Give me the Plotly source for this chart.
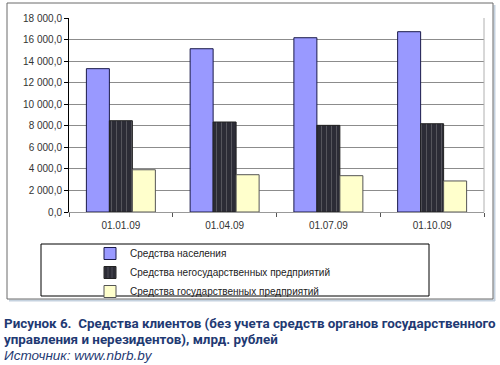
import plotly.graph_objects as go

# ---- data ----
dates = ["01.01.09", "01.04.09", "01.07.09", "01.10.09"]
population = [13300, 15150, 16170, 16730]
private_ent = [8470, 8350, 8040, 8190]
state_ent = [3920, 3460, 3370, 2880]
series_names = [
    "Средства населения",
    "Средства негосударственных предприятий",
    "Средства государственных предприятий",
]

W, H = 500, 365
L, R, T, B = 69, 16, 18, 153
PW, PH = W - L - R, H - T - B


def px_x(x):
    return (x - L) / PW


def px_y(y):
    return (H - B - y) / PH


fig = go.Figure()
fig.add_trace(go.Bar(
    x=dates, y=population, name=series_names[0],
    marker=dict(color="#9999FF", line=dict(color="#1a1a4a", width=1)),
))
fig.add_trace(go.Bar(
    x=dates, y=private_ent, name=series_names[1],
    marker=dict(color="#2c2c36", line=dict(color="#222222", width=1),
                pattern=dict(shape="|", fillmode="replace", bgcolor="#2c2c36",
                             fgcolor="#5f5f66", size=5, solidity=0.16)),
))
fig.add_trace(go.Bar(
    x=dates, y=state_ent, name=series_names[2],
    marker=dict(color="#FFFFCC", line=dict(color="#555555", width=1)),
))

axis_font = dict(family="Liberation Sans, Arial, sans-serif", size=10, color="#333333")

fig.update_layout(
    width=W, height=H, autosize=False,
    margin=dict(l=L, r=R, t=T, b=B, pad=0, autoexpand=False),
    paper_bgcolor="white", plot_bgcolor="white",
    barmode="group", bargap=0.335, bargroupgap=0,
    separators=", ",
    showlegend=True,
    legend=dict(
        x=px_x(90), y=px_y(239), xanchor="left", yanchor="top",
        orientation="v", bgcolor="rgba(0,0,0,0)", borderwidth=0,
        font=dict(family="Liberation Sans, Arial, sans-serif", size=10, color="#222222"),
        itemwidth=30, tracegroupgap=0,
    ),
    xaxis=dict(
        type="category", showline=True, linecolor="#999999", linewidth=1,
        ticks="outside", tickson="boundaries", ticklen=4, tickcolor="#555555",
        tickfont=axis_font, ticklabelstandoff=4, showgrid=False, mirror=False,
        fixedrange=True, automargin=False,
    ),
    yaxis=dict(
        range=[0, 18000], dtick=2000, tickformat=",.1f",
        showline=True, linecolor="#000000", linewidth=1,
        ticks="outside", ticklen=4, tickcolor="#000000",
        tickfont=axis_font, showgrid=True, gridcolor="#8c8c8c", gridwidth=1,
        zeroline=False, fixedrange=True, automargin=False,
    ),
)

shapes = []
# outer frame shadow
shapes.append(dict(type="line", xref="paper", yref="paper",
                   x0=px_x(9), x1=px_x(495), y0=px_y(300.5), y1=px_y(300.5),
                   line=dict(color="#c5d2df", width=2), layer="above"))
shapes.append(dict(type="line", xref="paper", yref="paper",
                   x0=px_x(494.5), x1=px_x(494.5), y0=px_y(301), y1=px_y(5),
                   line=dict(color="#c5d2df", width=2), layer="above"))
# outer frame
shapes.append(dict(type="rect", xref="paper", yref="paper",
                   x0=px_x(7), x1=px_x(493), y0=px_y(299), y1=px_y(3),
                   line=dict(color="#6b6b6b", width=1), fillcolor="rgba(0,0,0,0)", layer="above"))
# plot area right border
shapes.append(dict(type="line", xref="paper", yref="paper",
                   x0=1, x1=1, y0=0, y1=1, line=dict(color="#b0b0b0", width=1)))
# legend box
shapes.append(dict(type="rect", xref="paper", yref="paper",
                   x0=px_x(41), x1=px_x(429), y0=px_y(296), y1=px_y(244),
                   line=dict(color="#000000", width=1), fillcolor="rgba(0,0,0,0)", layer="above"))
fig.update_layout(shapes=shapes)

cap_font = dict(family="Roboto, Liberation Sans, Arial, sans-serif",
                size=13.4, color="#1F3A73")
fig.add_annotation(xref="paper", yref="paper", x=px_x(2), y=px_y(323),
                   xanchor="left", yanchor="middle", showarrow=False,
                   text="<b>Рисунок 6.  Средства клиентов (без учета средств органов государственного</b>",
                   font=cap_font)
fig.add_annotation(xref="paper", yref="paper", x=px_x(2), y=px_y(339),
                   xanchor="left", yanchor="middle", showarrow=False,
                   text="<b>управления и нерезидентов), млрд. рублей</b>",
                   font=cap_font)
fig.add_annotation(xref="paper", yref="paper", x=px_x(2), y=px_y(355),
                   xanchor="left", yanchor="middle", showarrow=False,
                   text="<i>Источник: www.nbrb.by</i>",
                   font=dict(family="Liberation Sans, Arial, sans-serif", size=13.5, color="#1F3A73"))

fig.write_html("out.html", config={"displayModeBar": False},
               post_script="document.body.style.margin='0px';document.body.style.overflow='hidden';")
